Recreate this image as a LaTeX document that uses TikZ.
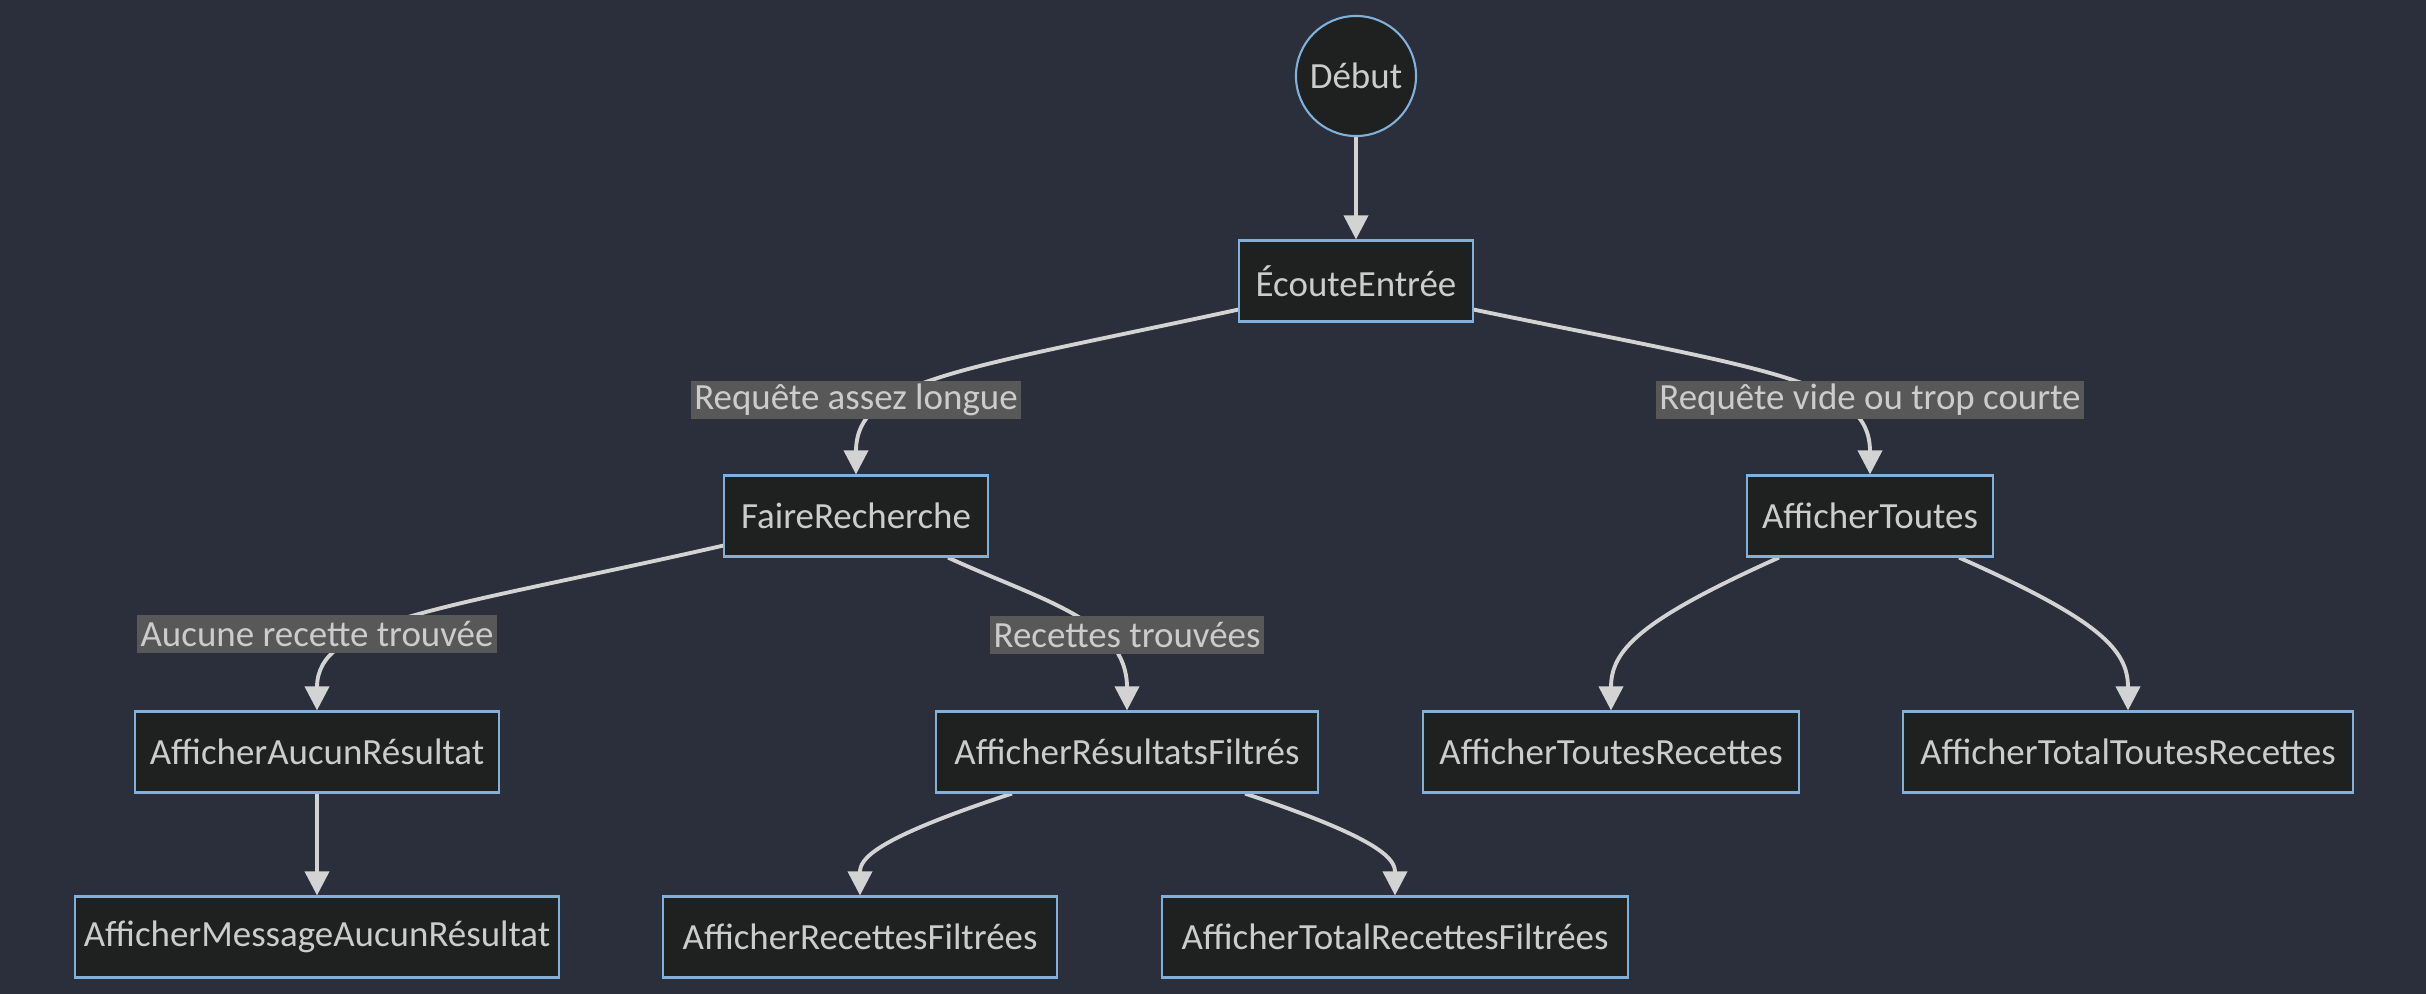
\documentclass[tikz,border=0pt]{standalone}
\usepackage{fontspec}
\setmainfont{Carlito}
\usepackage{tikz}
\usetikzlibrary{arrows.meta,positioning,backgrounds}
\definecolor{canvas}{HTML}{2A2F3B}
\definecolor{boxfill}{HTML}{1F2020}
\definecolor{boxline}{HTML}{81B1DB}
\definecolor{inktext}{HTML}{CCCCCC}
\definecolor{wire}{HTML}{D3D3D3}
\definecolor{tagfill}{HTML}{585858}
\tikzset{
  stepbox/.style={
    rectangle, draw=boxline, fill=boxfill, line width=0.6pt,
    minimum width=#1, minimum height=0.81cm,
    text=inktext, font=\fontsize{10.5pt}{12pt}\selectfont,
    inner sep=2pt
  },
  stepbox/.default=2.4cm,
  startnode/.style={circle, draw=boxline, fill=boxfill, line width=0.6pt,
    minimum size=1.2cm, text=inktext, font=\fontsize{10.5pt}{12pt}\selectfont,
    inner sep=0pt},
  edgetag/.style={rectangle, fill=tagfill, text=inktext,
    font=\fontsize{10.5pt}{12pt}\selectfont,
    inner xsep=1pt, inner ysep=0pt, minimum height=0.38cm},
  flow/.style={
    -{Triangle[length=0.24cm, width=0.24cm]}, line width=1.1pt, color=wire
  },
}

\begin{document}
\begin{tikzpicture}[x=0.01cm, y=-0.01cm]
\useasboundingbox (0,0) rectangle (2426,994);
\node[startnode] (debut) at (1356,76) {Début};
\node[stepbox=2.33cm] (ecoute) at (1356,281) {ÉcouteEntrée};
\node[stepbox=2.63cm] (faire) at (856,516) {FaireRecherche};
\node[stepbox=2.46cm] (toutes) at (1870,516) {AfficherToutes};
\node[stepbox=3.63cm] (aucun) at (317,752) {AfficherAucunRésultat};
\node[stepbox=3.82cm] (filtres) at (1127,752) {AfficherRésultatsFiltrés};
\node[stepbox=3.76cm] (toutesrec) at (1611,752) {AfficherToutesRecettes};
\node[stepbox=4.50cm] (totaltoutes) at (2128,752) {AfficherTotalToutesRecettes};
\node[stepbox=4.84cm] (message) at (317,937) {AfficherMessageAucunRésultat};
\node[stepbox=3.93cm] (recfiltres) at (860,937) {AfficherRecettesFiltrées};
\node[stepbox=4.66cm] (totalfiltres) at (1395,937) {AfficherTotalRecettesFiltrées};
\node[edgetag] (longue) at (856,400) {Requête assez longue};
\node[edgetag] (courte) at (1870,400) {Requête vide ou trop courte};
\node[edgetag] (aucune) at (317,634) {Aucune recette trouvée};
\node[edgetag] (trouvees) at (1127,635) {Recettes trouvées};
\begin{scope}[on background layer]
\fill[canvas] (0,0) rectangle (2426,994);
\draw[flow] (debut) -- (ecoute);
\draw[flow] ([yshift=0.13cm]ecoute.south west) .. controls (960,370) and (856,380) .. (faire.north);
\draw[flow] ([yshift=0.13cm]ecoute.south east) .. controls (1766,370) and (1870,380) .. (toutes.north);
\draw[flow] ([yshift=0.12cm]faire.south west) .. controls (440,610) and (317,620) .. (aucun.north);
\draw[flow] ([xshift=0.92cm]faire.south) .. controls (1040,600) and (1127,620) .. (filtres.north);
\draw[flow] ([xshift=-0.91cm]toutes.south) .. controls (1640,620) and (1611,650) .. (toutesrec.north);
\draw[flow] ([xshift=0.89cm]toutes.south) .. controls (2100,620) and (2128,650) .. (totaltoutes.north);
\draw[flow] (aucun) -- (message);
\draw[flow] ([xshift=-1.15cm]filtres.south) .. controls (870,840) and (860,860) .. (recfiltres.north);
\draw[flow] ([xshift=1.18cm]filtres.south) .. controls (1385,840) and (1395,860) .. (totalfiltres.north);
\end{scope}
\end{tikzpicture}
\end{document}
